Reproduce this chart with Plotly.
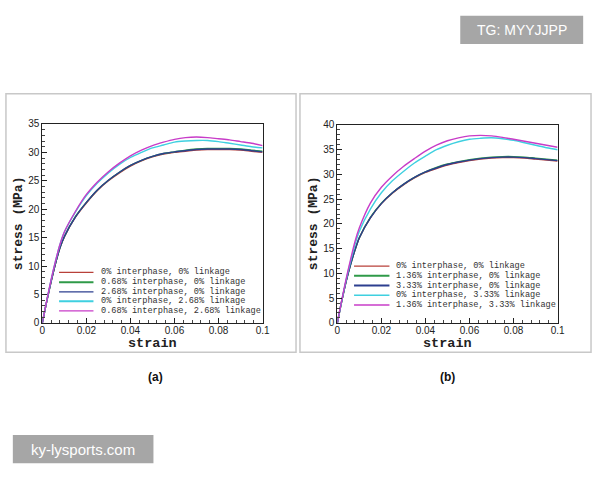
import plotly.graph_objects as go

strain = [0, 0.002, 0.004, 0.006, 0.008, 0.01, 0.015, 0.02, 0.025, 0.03, 0.035, 0.04,
          0.045, 0.05, 0.055, 0.06, 0.065, 0.07, 0.075, 0.08, 0.085, 0.09, 0.095, 0.1]

# Panel (a)
a_names = ["0% interphase, 0% linkage", "0.68% interphase, 0% linkage",
           "2.68% interphase, 0% linkage", "0% interphase, 2.68% linkage",
           "0.68% interphase, 2.68% linkage"]
a_red = [0, 3.8, 7.3, 10.5, 13.2, 15.1, 18.6, 21.1, 23.3, 25.0, 26.4, 27.6,
         28.5, 29.2, 29.7, 30.0, 30.2, 30.4, 30.5, 30.5, 30.5, 30.4, 30.2, 30.0]
a_green = [0, 3.8, 7.3, 10.5, 13.2, 15.2, 18.7, 21.2, 23.4, 25.1, 26.5, 27.7,
           28.6, 29.3, 29.8, 30.1, 30.4, 30.6, 30.7, 30.7, 30.7, 30.6, 30.4, 30.2]
a_blue = [0, 3.8, 7.3, 10.5, 13.2, 15.2, 18.6, 21.2, 23.4, 25.1, 26.5, 27.7,
          28.6, 29.3, 29.8, 30.1, 30.3, 30.5, 30.6, 30.6, 30.6, 30.5, 30.3, 30.1]
a_cyan = [0, 3.9, 7.6, 10.9, 13.8, 16.0, 19.5, 22.4, 24.6, 26.4, 27.9, 29.1,
          30.0, 30.8, 31.3, 31.8, 32.0, 32.1, 32.1, 31.9, 31.6, 31.3, 31.0, 30.8]
a_mag = [0, 3.9, 7.6, 10.9, 13.8, 16.0, 19.6, 22.6, 24.8, 26.6, 28.1, 29.4,
         30.4, 31.2, 31.8, 32.3, 32.6, 32.7, 32.6, 32.4, 32.2, 31.9, 31.6, 31.2]

# Panel (b)
b_names = ["0% interphase, 0% linkage", "1.36% interphase, 0% linkage",
           "3.33% interphase, 0% linkage", "0% interphase, 3.33% linkage",
           "1.36% interphase, 3.33% linkage"]
b_red = [0, 4.4, 8.4, 11.8, 14.7, 17.2, 21.2, 24.1, 26.2, 27.9, 29.3, 30.4,
         31.2, 31.9, 32.4, 32.8, 33.1, 33.3, 33.4, 33.4, 33.3, 33.1, 32.9, 32.7]
b_green = [0, 4.4, 8.4, 11.8, 14.7, 17.2, 21.3, 24.2, 26.3, 28.0, 29.4, 30.5,
           31.4, 32.1, 32.6, 33.0, 33.3, 33.5, 33.6, 33.6, 33.5, 33.3, 33.1, 32.9]
b_blue = [0, 4.4, 8.4, 11.8, 14.7, 17.2, 21.2, 24.1, 26.3, 28.0, 29.4, 30.5,
          31.3, 32.0, 32.5, 32.9, 33.2, 33.4, 33.5, 33.5, 33.4, 33.2, 33.0, 32.8]
b_cyan = [0, 4.5, 8.7, 12.4, 15.8, 18.5, 23.0, 26.3, 28.7, 30.6, 32.3, 33.7,
          35.0, 35.9, 36.6, 37.1, 37.3, 37.4, 37.2, 36.9, 36.4, 35.9, 35.4, 35.0]
b_mag = [0, 4.6, 8.9, 12.8, 16.4, 19.2, 24.2, 27.4, 29.7, 31.6, 33.2, 34.7,
         35.9, 36.8, 37.4, 37.8, 37.9, 37.8, 37.5, 37.1, 36.7, 36.3, 35.9, 35.5]

colors = ["#b8403a", "#2f9a48", "#2c3f8f", "#3fd0e0", "#c83cc8"]
a_series = [a_red, a_green, a_blue, a_cyan, a_mag]
b_series = [b_red, b_green, b_blue, b_cyan, b_mag]
a_widths = [1.3, 2.0, 1.3, 2.0, 1.3]
b_widths = [1.3, 2.0, 2.0, 1.5, 1.5]

W, H = 600, 480
def px(x):
    return x / W
def py(y):
    return 1 - y / H

fig = go.Figure()
for i in range(5):
    fig.add_trace(go.Scatter(x=strain, y=a_series[i], mode="lines", name=a_names[i],
                             line=dict(color=colors[i], width=1.4, shape="spline", smoothing=0.8),
                             xaxis="x", yaxis="y", showlegend=False))
for i in range(5):
    fig.add_trace(go.Scatter(x=strain, y=b_series[i], mode="lines", name=b_names[i],
                             line=dict(color=colors[i], width=1.4, shape="spline", smoothing=0.8),
                             xaxis="x2", yaxis="y2", showlegend=False))

tickfont = dict(family="Liberation Sans", size=10, color="#222")
common = dict(showgrid=False, zeroline=False, showline=True, linecolor="#222", linewidth=1,
              mirror=True, ticks="inside", ticklen=5, tickcolor="#222", tickfont=tickfont)
xcommon = dict(common, range=[0, 0.1], tickvals=[0, 0.02, 0.04, 0.06, 0.08, 0.1],
               ticktext=["0", "0.02", "0.04", "0.06", "0.08", "0.1"], ticklabelstandoff=-2,
               minor=dict(dtick=0.004, ticks="inside", ticklen=3, tickcolor="#444"))

shapes = []
annotations = []

# panel frames
for x0, x1 in [(3, 298), (302, 598)]:
    shapes.append(dict(type="rect", xref="paper", yref="paper", x0=px(x0), x1=px(x1),
                       y0=py(355), y1=py(90), line=dict(color="#c8c8c8", width=1.5),
                       layer="below"))

# legends (drawn manually)
def legend(lx0, lx1, tx, rows, names, widths):
    for i, (yy, nm) in enumerate(zip(rows, names)):
        shapes.append(dict(type="line", xref="paper", yref="paper", x0=px(lx0), x1=px(lx1),
                           y0=py(yy), y1=py(yy), line=dict(color=colors[i], width=widths[i])))
        annotations.append(dict(xref="paper", yref="paper", x=px(tx), y=py(yy), text=nm,
                                showarrow=False, xanchor="left", yanchor="middle", borderpad=0,
                                font=dict(family="Liberation Mono", size=8.6, color="#333")))

legend(57, 92, 99, [273.3, 283.3, 293.3, 302.8, 312.7], a_names, a_widths)
legend(357, 393, 399, [266.7, 276.7, 286.7, 296.7, 306.7], b_names, b_widths)

titlefont = dict(family="Liberation Mono", size=13.5, color="#222")
for cx, ycx in [(152, 16), (452, 316)]:
    annotations.append(dict(xref="paper", yref="paper", x=px(cx), y=py(346), text="<b>strain</b>",
                            showarrow=False, xanchor="center", yanchor="middle", borderpad=0,
                            font=titlefont))
    annotations.append(dict(xref="paper", yref="paper", x=px(ycx), y=py(223),
                            text="<b>stress (MPa)</b>", textangle=-90, showarrow=False,
                            xanchor="center", yanchor="middle",
                            font=dict(family="Liberation Mono", size=13, color="#222")))

for cx, lab in [(155, "(a)"), (452, "(b)")]:
    annotations.append(dict(xref="paper", yref="paper", x=px(cx), y=py(381), text=f"<b>{lab}</b>",
                            showarrow=False, xanchor="center", yanchor="middle",
                            font=dict(family="Liberation Sans", size=12, color="#111")))

# watermarks
shapes.append(dict(type="rect", xref="paper", yref="paper", x0=px(465), x1=px(590),
                   y0=py(39), y1=py(10), fillcolor="#a6a6a6", line=dict(width=0)))
annotations.append(dict(xref="paper", yref="paper", x=px(527.5), y=py(24.5), text="TG: MYYJJPP",
                        showarrow=False, xanchor="center", yanchor="middle",
                        font=dict(family="Liberation Sans", size=14, color="white")))
shapes.append(dict(type="rect", xref="paper", yref="paper", x0=px(10), x1=px(153),
                   y0=py(469), y1=py(440), fillcolor="#a6a6a6", line=dict(width=0)))
annotations.append(dict(xref="paper", yref="paper", x=px(81.5), y=py(454.5), text="ky-lysports.com",
                        showarrow=False, xanchor="center", yanchor="middle",
                        font=dict(family="Liberation Sans", size=15, color="white")))

fig.update_layout(
    width=W, height=H, margin=dict(l=0, r=0, t=0, b=0),
    paper_bgcolor="white", plot_bgcolor="white", showlegend=False,
    xaxis=dict(xcommon, domain=[px(40), px(264)], anchor="y"),
    yaxis=dict(common, domain=[py(325), py(121)], range=[0, 35], dtick=5, anchor="x",
               minor=dict(dtick=1, ticks="inside", ticklen=3, tickcolor="#444")),
    xaxis2=dict(xcommon, domain=[px(340), px(564)], anchor="y2"),
    yaxis2=dict(common, domain=[py(325), py(122)], range=[0, 40], dtick=5, anchor="x2",
                minor=dict(dtick=1, ticks="inside", ticklen=3, tickcolor="#444")),
    shapes=shapes, annotations=annotations,
)

fig.write_html("out.html")
